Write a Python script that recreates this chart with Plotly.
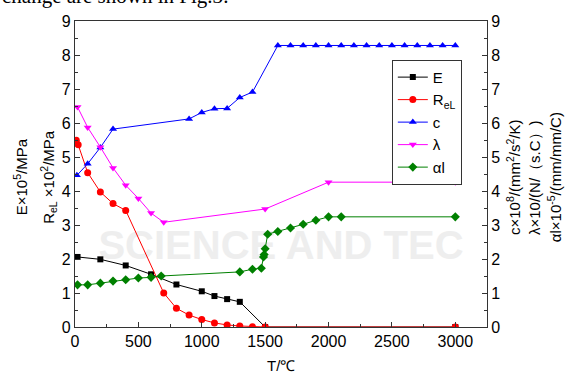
import plotly.graph_objects as go

# ---- data ----
T_E = [20, 200, 400, 600, 800, 1000, 1100, 1200, 1300, 1500, 3000]
E = [2.06, 1.99, 1.81, 1.55, 1.25, 1.05, 0.91, 0.82, 0.74, 0.0, 0.0]

T_R = [10, 25, 100, 200, 300, 400, 700, 800, 900, 1000, 1100, 1200, 1300, 1400, 1500, 3000]
ReL = [5.49, 5.36, 4.54, 3.97, 3.63, 3.43, 1.0, 0.55, 0.35, 0.22, 0.12, 0.06, 0.03, 0.01, 0.0, 0.0]

T_c = [15, 100, 200, 300, 900, 1000, 1100, 1200, 1300, 1400,
       1600, 1700, 1800, 1900, 2000, 2100, 2200, 2300, 2400, 2500, 2600, 2700, 2800, 2900, 3000]
c = [4.46, 4.80, 5.28, 5.82, 6.12, 6.31, 6.42, 6.43, 6.75, 6.91,
     8.28, 8.28, 8.28, 8.28, 8.28, 8.28, 8.28, 8.28, 8.28, 8.28, 8.28, 8.28, 8.28, 8.28, 8.28]

T_lam = [20, 100, 200, 300, 400, 500, 600, 700, 1500, 2000, 3000]
lam = [6.47, 5.87, 5.29, 4.68, 4.17, 3.78, 3.35, 3.08, 3.47, 4.26, 4.26]

T_al = [20, 100, 200, 300, 400, 500, 600, 680, 1300, 1400, 1470, 1487, 1492, 1500, 1520,
        1600, 1700, 1800, 1900, 2000, 2100, 3000]
al = [1.24, 1.24, 1.29, 1.35, 1.39, 1.44, 1.46, 1.50, 1.62, 1.70, 1.73, 2.06, 2.13, 2.30, 2.73,
      2.81, 2.91, 3.02, 3.14, 3.24, 3.24, 3.24]

x_ticks = [0, 500, 1000, 1500, 2000, 2500, 3000]
y_ticks = [0, 1, 2, 3, 4, 5, 6, 7, 8, 9]

FONT = "Liberation Sans, Arial, sans-serif"

fig = go.Figure()

def add(x, y, name, color, symbol, size, axis="y"):
    fig.add_trace(go.Scatter(
        x=x, y=y, name=name, mode="lines+markers", yaxis=axis,
        line=dict(color=color, width=1),
        marker=dict(color=color, symbol=symbol, size=size, line=dict(width=0)),
    ))

add(T_E, E, "E", "black", "square", 6)
add(T_R, ReL, "R<sub>eL</sub>", "red", "circle", 7)
add(T_c, c, "c", "blue", "triangle-up", 7, "y2")
add(T_lam, lam, "λ", "#ff00ff", "triangle-down", 7, "y2")
add(T_al, al, "αl", "#008000", "diamond", 7, "y2")

axis_common = dict(
    showgrid=False, zeroline=False, showline=True, linecolor="#333", linewidth=1.2,
    ticks="inside", ticklen=5, tickcolor="#333", tickwidth=1, automargin=False,
    tickfont=dict(family=FONT, size=16, color="black"),
)

fig.update_layout(
    width=566, height=376,
    margin=dict(l=75, r=79, t=21, b=49, autoexpand=False),
    paper_bgcolor="white", plot_bgcolor="white",
    font=dict(family=FONT, color="black"),
    xaxis=dict(range=[0, 3250], tickvals=x_ticks, mirror=True,
               minor=dict(ticks="inside", ticklen=3, dtick=250, tickcolor="#333"),
               **axis_common),
    yaxis=dict(range=[0, 9], tickvals=y_ticks,
               minor=dict(ticks="inside", ticklen=3, dtick=0.5, tickcolor="#333"),
               **axis_common),
    yaxis2=dict(range=[0, 9], tickvals=y_ticks, overlaying="y", side="right",
                minor=dict(ticks="inside", ticklen=3, dtick=0.5, tickcolor="#333"),
                **axis_common),
    legend=dict(x=0.769, y=0.873, xanchor="left", yanchor="top",
                bgcolor="white", bordercolor="#333", borderwidth=1,
                font=dict(family=FONT, size=15), tracegroupgap=0,
                itemwidth=30),
    showlegend=True,
)

# watermark (below traces)
fig.add_shape(type="rect", xref="paper", yref="paper", x0=0.0, x1=1.0, y0=0.2, y1=0.36,
              line=dict(width=0), fillcolor="rgba(0,0,0,0)", layer="below",
              label=dict(text="<b>SCIENCE AND TEC</b>", textposition="middle center",
                         font=dict(family=FONT, size=40, color="#eeeeee")))

# axis titles
fig.add_annotation(text="E×10<sup>5</sup>/MPa", xref="paper", yref="paper",
                   x=-0.133, y=0.49, textangle=-90, showarrow=False,
                   font=dict(family=FONT, size=15), xanchor="center", yanchor="middle")
fig.add_annotation(text="R<sub>eL</sub> ×10<sup>2</sup>/MPa", xref="paper", yref="paper",
                   x=-0.066, y=0.49, textangle=-90, showarrow=False,
                   font=dict(family=FONT, size=15), xanchor="center", yanchor="middle")
fig.add_annotation(text="c×10<sup>8</sup>/(mm<sup>2</sup>/s<sup>2</sup>/K)", xref="paper", yref="paper",
                   x=1.063, y=0.49, textangle=-90, showarrow=False,
                   font=dict(family=FONT, size=15), xanchor="center", yanchor="middle")
fig.add_annotation(text="λ×10/(N/（s.C）)", xref="paper", yref="paper",
                   x=1.114, y=0.49, textangle=-90, showarrow=False,
                   font=dict(family=FONT, size=15), xanchor="center", yanchor="middle")
fig.add_annotation(text="αl×10<sup>-5</sup>/(mm/mm/C)", xref="paper", yref="paper",
                   x=1.163, y=0.49, textangle=-90, showarrow=False,
                   font=dict(family=FONT, size=15), xanchor="center", yanchor="middle")
fig.add_annotation(text="T/℃", xref="paper", yref="paper",
                   x=0.5, y=-0.092, showarrow=False,
                   font=dict(family=FONT, size=15), xanchor="center", yanchor="top")
# cut-off caption at the top
fig.add_annotation(text="change are shown in Fig.3:", xref="paper", yref="paper",
                   x=-0.182, y=1.035, showarrow=False, xanchor="left", yanchor="bottom",
                   font=dict(family="Liberation Serif, Times New Roman, serif", size=21))

fig.write_html("out.html", config={"displayModeBar": False},
               post_script="document.body.style.margin='0';")
